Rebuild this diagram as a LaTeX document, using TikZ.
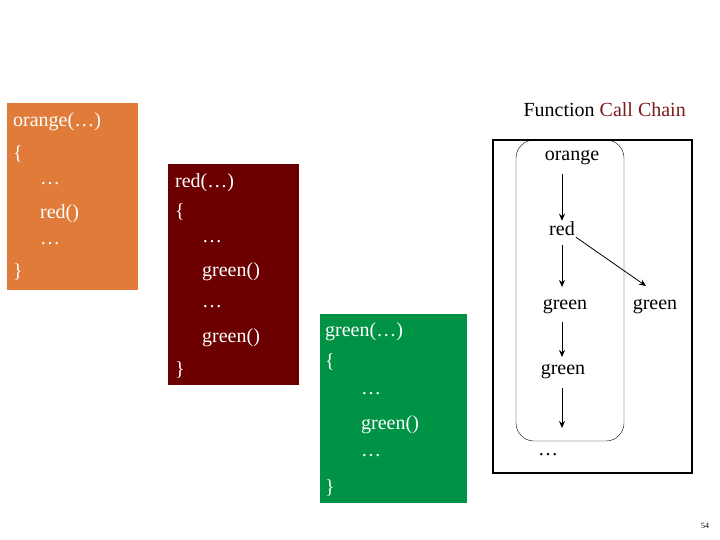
\documentclass[tikz,border=0pt]{standalone}
\usepackage{fontspec}
\setmainfont{Liberation Serif}
\usepackage{xcolor}
\usetikzlibrary{arrows.meta, positioning}
\definecolor{fn_orange}{RGB}{224, 123, 57}
\definecolor{fn_red}{RGB}{108, 0, 0}
\definecolor{fn_green}{RGB}{0, 146, 69}
\definecolor{fn_title}{RGB}{123, 26, 26}
\begin{document}
\begin{tikzpicture}[
        x=1pt, y=-1pt,
        code/.style={anchor=west, text=white, font=\fontsize{20}{24}\selectfont, inner sep=0pt},
        chain/.style={font=\fontsize{20}{24}\selectfont, inner sep=1pt},
        call/.style={-{Stealth[length=7pt, width=6pt]}, thick},
      ]
        \useasboundingbox (0,0) rectangle (720,540);

        % code boxes
        \fill[fn_orange] (7,103) rectangle (138,290);
        \node[code] (o1) at (13,122) {orange(…)};
        \node[code] (o2) at (13,154) {\{};
        \node[code] (o3) at (40,184) {…};
        \node[code] (o4) at (40,214) {red()};
        \node[code] (o5) at (40,244) {…};
        \node[code] (o6) at (13,272) {\}};

        \fill[fn_red] (168,164) rectangle (299,385);
        \node[code] (r1) at (175,183) {red(…)};
        \node[code] (r2) at (175,212) {\{};
        \node[code] (r3) at (202,242) {…};
        \node[code] (r4) at (202,272) {green()};
        \node[code] (r5) at (202,307) {…};
        \node[code] (r6) at (202,338) {green()};
        \node[code] (r7) at (175,370) {\}};

        \fill[fn_green] (320,314) rectangle (467,503);
        \node[code] (g1) at (325,332) {green(…)};
        \node[code] (g2) at (325,362) {\{};
        \node[code] (g3) at (361,394) {…};
        \node[code] (g4) at (361,425) {green()};
        \node[code] (g5) at (361,456) {…};
        \node[code] (g6) at (325,488) {\}};

        % call chain
        \node[anchor=east, font=\fontsize{20}{24}\selectfont, inner sep=0pt] (title) at (686,110)
          {Function \textcolor{fn_title}{Call Chain}};
        \draw[line width=2.5pt] (493,140) rectangle (692,473);
        \draw[rounded corners=18pt] (516,140) rectangle (624,441);

        \node[chain] (orange) at (572,158) {orange};
        \node[chain] (red)    at (562,229) {red};
        \node[chain] (green1) at (565,307) {green};
        \node[chain] (green2) at (655,307) {green};
        \node[chain] (green3) at (563,372) {green};
        \node[chain] (dots)   at (548,455) {…};
        \coordinate (end) at (562,428);

        \draw[call] (562,174) -- (red);
        \draw[call] (562,245) -- (562,287);
        \draw[call] (red.south east) -- (646,286);
        \draw[call] (562,322) -- (562,357);
        \draw[call] (562,388) -- (end);

        \node[font=\footnotesize, inner sep=0pt] (page) at (705,526) {54};
      \end{tikzpicture}
\end{document}
